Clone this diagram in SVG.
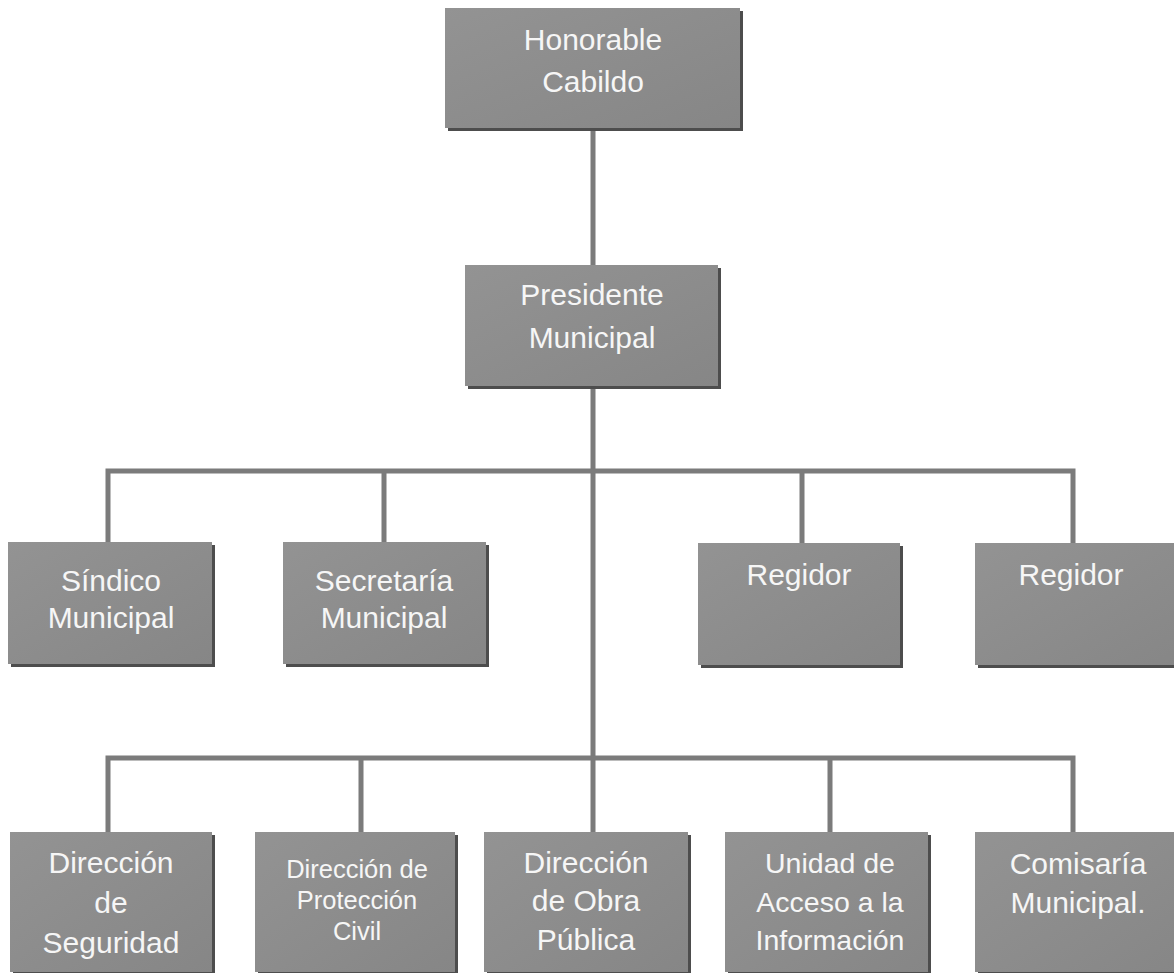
<svg xmlns="http://www.w3.org/2000/svg" width="1174" height="973" viewBox="0 0 1174 973">
<style>
.sh{fill:#4d4d4d}
.bx{fill:url(#g)}
.t{font-family:"Liberation Sans",Arial,sans-serif;font-size:30px;fill:#f6f6f6;text-anchor:middle}
.s{font-size:25.5px}
.m{font-size:28.5px}
.c{stroke:#7b7b7b;stroke-width:5;fill:none;stroke-linecap:square}
</style>
<defs>
<linearGradient id="g" x1="0" y1="0" x2="1" y2="1">
<stop offset="0" stop-color="#939393"/>
<stop offset="1" stop-color="#868686"/>
</linearGradient>
</defs>
<rect width="1174" height="973" fill="#ffffff"/>
<g id="connectors">
<path class="c" d="M593 128V265M593 386V832"/>
<path class="c" d="M108 542V471H1073V542M384 471V542M802 471V542"/>
<path class="c" d="M108 832V758H1073V832M361 758V832M830 758V832"/>
</g>
<g id="n1"><rect class="sh" x="448" y="11" width="295" height="120"/><rect class="bx" x="445" y="8" width="295" height="120"/><text class="t" x="593" y="50">Honorable</text><text class="t" x="593" y="92">Cabildo</text></g>
<g id="n2"><rect class="sh" x="468" y="268" width="253" height="121"/><rect class="bx" x="465" y="265" width="253" height="121"/><text class="t" x="592" y="305">Presidente</text><text class="t" x="592" y="348">Municipal</text></g>
<g id="n3"><rect class="sh" x="11" y="545" width="204" height="122"/><rect class="bx" x="8" y="542" width="204" height="122"/><text class="t" x="111" y="591">Síndico</text><text class="t" x="111" y="628">Municipal</text></g>
<g id="n4"><rect class="sh" x="286" y="545" width="203" height="122"/><rect class="bx" x="283" y="542" width="203" height="122"/><text class="t" x="384" y="591">Secretaría</text><text class="t" x="384" y="628">Municipal</text></g>
<g id="n5"><rect class="sh" x="701" y="546" width="202" height="122"/><rect class="bx" x="698" y="543" width="202" height="122"/><text class="t" x="799" y="585">Regidor</text></g>
<g id="n6"><rect class="sh" x="978" y="546" width="210" height="122"/><rect class="bx" x="975" y="543" width="210" height="122"/><text class="t" x="1071" y="585">Regidor</text></g>
<g id="n7"><rect class="sh" x="13" y="835" width="202" height="140"/><rect class="bx" x="10" y="832" width="202" height="140"/><text class="t" x="111" y="873">Dirección</text><text class="t" x="111" y="913">de</text><text class="t" x="111" y="953">Seguridad</text></g>
<g id="n8"><rect class="sh" x="258" y="835" width="200" height="140"/><rect class="bx" x="255" y="832" width="200" height="140"/><text class="t s" x="357" y="878">Dirección de</text><text class="t s" x="357" y="909">Protección</text><text class="t s" x="357" y="940">Civil</text></g>
<g id="n9"><rect class="sh" x="487" y="835" width="204" height="140"/><rect class="bx" x="484" y="832" width="204" height="140"/><text class="t" x="586" y="873">Dirección</text><text class="t" x="586" y="911">de Obra</text><text class="t" x="586" y="950">Pública</text></g>
<g id="n10"><rect class="sh" x="728" y="835" width="203" height="140"/><rect class="bx" x="725" y="832" width="203" height="140"/><text class="t m" x="830" y="873">Unidad de</text><text class="t m" x="830" y="912">Acceso a la</text><text class="t m" x="830" y="950">Información</text></g>
<g id="n11"><rect class="sh" x="978" y="835" width="210" height="140"/><rect class="bx" x="975" y="832" width="210" height="140"/><text class="t" x="1078" y="874">Comisaría</text><text class="t" x="1078" y="913">Municipal.</text></g>
</svg>
